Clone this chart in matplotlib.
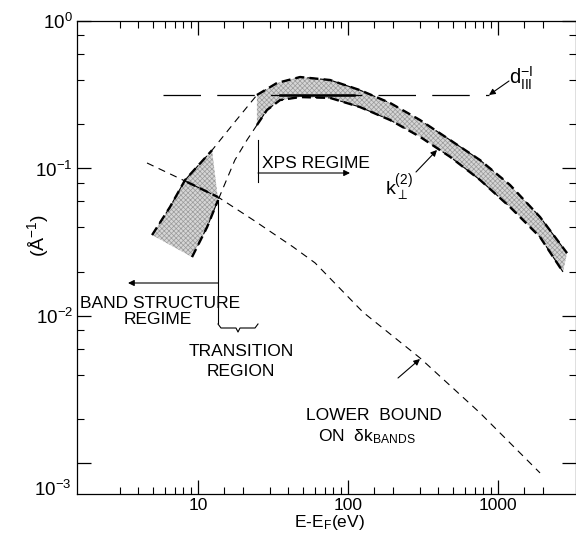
import matplotlib
matplotlib.use("Agg")
import matplotlib.pyplot as plt
from matplotlib.ticker import FixedLocator, NullFormatter

plt.rcParams['font.family'] = ['Liberation Sans', 'DejaVu Sans']
plt.rcParams['mathtext.fontset'] = 'custom'
plt.rcParams['mathtext.rm'] = 'Liberation Sans'
plt.rcParams['mathtext.default'] = 'regular'
plt.rcParams['hatch.linewidth'] = 0.5

# k_perp^(2) band, upper and lower edges (E in eV, k in 1/A)
upper_E = [4.94, 6.5, 8.2, 12.4, 17.6, 24.7, 33.6, 47.9, 75.9, 120, 191, 302, 479, 759, 1202, 1905, 2884]
upper_k = [0.0354, 0.0548, 0.0836, 0.133, 0.207, 0.315, 0.38, 0.417, 0.398, 0.34, 0.278,
           0.213, 0.156, 0.114, 0.0773, 0.0469, 0.0267]
lower_E = [9.12, 11.5, 13.6, 17.6, 21.2, 24.7, 28.8, 35.2, 47.9, 75.9, 120, 191, 302, 479, 759, 1202, 1905, 2710]
lower_k = [0.0251, 0.0401, 0.0611, 0.114, 0.156, 0.197, 0.249, 0.291, 0.305, 0.301, 0.261,
           0.213, 0.164, 0.12, 0.0836, 0.0548, 0.0343, 0.0199]

# lower bound on delta k_bands
bound_E = [4.57, 8.45, 13.6, 23.3, 43, 60.3, 126, 302, 759, 1905]
bound_k = [0.109, 0.081, 0.064, 0.0448, 0.0294, 0.0229, 0.0106, 0.00519, 0.0022, 0.000863]

# 1/d_III level
d_E = [5.8, 870]
d_k = 0.315
d_bold_E = [35, 110]

x_minor = [3, 4, 5, 6, 7, 8, 9, 15, 20, 30, 40, 50, 60, 70, 80, 90,
           150, 200, 300, 400, 500, 600, 700, 800, 900, 1500, 2000]
y_minor = [m * 10.0 ** p for p in (-3, -2, -1) for m in (2, 4, 6, 8)]

W, H = 576, 534
L, R, T, B = 77, 576, 21, 494


def px(x, y):
    # figure pixel -> axes fraction, for labels and decorations
    return (x - L) / (R - L), (B - y) / (B - T)


fig = plt.figure(figsize=(W / 100, H / 100), dpi=100)
ax = fig.add_axes([L / W, 1 - B / H, (R - L) / W, (B - T) / H])
ax.set_xscale('log')
ax.set_yscale('log')
ax.set_xlim(1.56, 3310)
ax.set_ylim(6.21e-4, 1.0)

# shaded pieces of the band
n = 4
wedge_E = upper_E[:n] + lower_E[2::-1]
wedge_k = upper_k[:n] + lower_k[2::-1]
band_E = upper_E[5:] + lower_E[5:][::-1]
band_k = upper_k[5:] + lower_k[5:][::-1]
for xs, ys in [(wedge_E, wedge_k), (band_E, band_k)]:
    ax.fill(xs, ys, facecolor='#d6d6d6', edgecolor='#9a9a9a', hatch='xxxxxxx', linewidth=0)

thin = dict(color='black', lw=0.8, dashes=(6.5, 5))
bold = dict(color='black', lw=1.7, dashes=(3.8, 2.2))
ax.plot(upper_E, upper_k, **thin)
ax.plot(lower_E, lower_k, **thin)
ax.plot(bound_E, bound_k, **thin)
ax.plot(upper_E[:n], upper_k[:n], **bold)
ax.plot(lower_E[:3], lower_k[:3], **bold)
ax.plot(upper_E[5:], upper_k[5:], **bold)
ax.plot(lower_E[5:], lower_k[5:], **bold)
ax.plot(bound_E[1:3], bound_k[1:3], **bold)

ax.plot(d_E, [d_k, d_k], color='black', lw=0.9, dashes=(30, 13))
ax.plot(d_bold_E, [d_k, d_k], color='black', lw=1.8)

# ticks
ax.tick_params(which='both', direction='in', top=True, right=True, labelsize=12.5)
ax.tick_params(which='major', length=10, width=0.9, pad=3)
ax.tick_params(which='minor', length=5, width=0.8)
ax.set_xticks([10, 100, 1000])
ax.set_xticklabels(['10', '100', '1000'])
ax.xaxis.set_minor_locator(FixedLocator(x_minor))
ax.xaxis.set_minor_formatter(NullFormatter())
ax.set_yticks([1e-3, 1e-2, 1e-1, 1])
ax.set_yticklabels(['', r'10$^{-2}$', r'10$^{-1}$', r'10$^{0}$'], fontsize=13.5)
ax.yaxis.set_minor_locator(FixedLocator(y_minor))
ax.yaxis.set_minor_formatter(NullFormatter())
for s in ax.spines.values():
    s.set_linewidth(0.9)

tkw = dict(transform=ax.transAxes, fontsize=12.5, clip_on=False)
ax.text(*px(71, 490), r'10$^{-3}$', ha='right', va='center', transform=ax.transAxes,
        fontsize=13.5, clip_on=False)
ax.text(*px(329, 523), r'E-E$_F$(eV)', ha='center', va='center', **tkw)
ax.text(*px(38, 235), r'($\AA^{-1}$)', ha='center', va='center', rotation=90,
        transform=ax.transAxes, fontsize=14, clip_on=False)

ax.text(*px(160, 303), 'BAND STRUCTURE', ha='center', va='center', **tkw)
ax.text(*px(158, 319), 'REGIME', ha='center', va='center', **tkw)
ax.text(*px(241, 351), 'TRANSITION', ha='center', va='center', **tkw)
ax.text(*px(241, 371), 'REGION', ha='center', va='center', **tkw)
ax.text(*px(262, 168), 'XPS REGIME', ha='left', va='baseline', **tkw)
ax.text(*px(306, 416), 'LOWER  BOUND', ha='left', va='center', **tkw)
ax.text(*px(318, 437), r'ON  δk$_{BANDS}$', ha='left', va='center', **tkw)
ax.text(*px(385, 188), r'k$_{\perp}^{(2)}$', ha='left', va='center',
        transform=ax.transAxes, fontsize=14, clip_on=False)
ax.text(*px(509, 78), r'd$_{III}^{-I}$', ha='left', va='center',
        transform=ax.transAxes, fontsize=14.5, clip_on=False)

line = dict(color='black', lw=0.8, transform=ax.transAxes, clip_on=False)
arr = dict(arrowstyle='-|>', color='black', lw=0.8, mutation_scale=9,
           shrinkA=0, shrinkB=0)
acoords = dict(xycoords='axes fraction', textcoords='axes fraction')

# transition region markers
ax.plot(*zip(px(218, 200), px(218, 323)), **line)
ax.annotate('', xy=px(128, 283), xytext=px(218, 283), arrowprops=arr, **acoords)
brace = [px(218, 324), px(221, 328), px(236, 328), px(238, 332),
         px(240, 328), px(255, 328), px(258, 324)]
ax.plot(*zip(*brace), **line)

# XPS regime marker
ax.plot(*zip(px(258, 140), px(258, 182)), **line)
ax.annotate('', xy=px(350, 173), xytext=px(258, 173), arrowprops=arr, **acoords)

# pointer arrows
ax.annotate('', xy=px(489, 95), xytext=px(509, 81), arrowprops=arr, **acoords)
ax.annotate('', xy=px(437, 150), xytext=px(416, 172), arrowprops=arr, **acoords)
ax.annotate('', xy=px(420, 359), xytext=px(398, 378), arrowprops=arr, **acoords)

fig.savefig('out.png', dpi=100)
